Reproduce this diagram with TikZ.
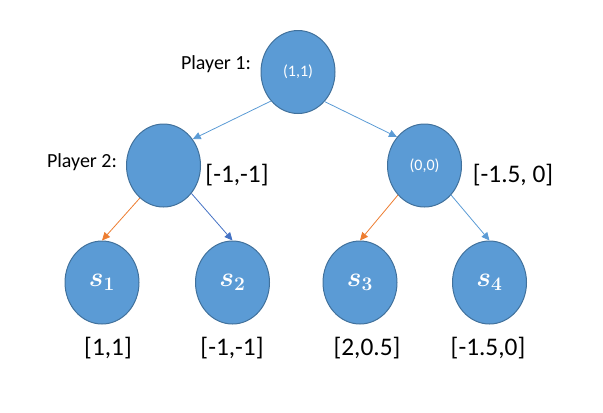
\documentclass[tikz,border=0pt]{standalone}
\usepackage{fontspec}
\setmainfont{Carlito}
\usetikzlibrary{shapes.geometric,arrows.meta}
\definecolor{nodeblue}{HTML}{5B9BD5}
\definecolor{nodeedge}{HTML}{41719C}
\definecolor{darkblue}{HTML}{4472C4}
\definecolor{lineorange}{HTML}{ED7D31}

\begin{document}
\begin{tikzpicture}[x=0.75pt,y=-0.75pt,
  state/.style={ellipse,draw=nodeedge,line width=0.75pt,fill=nodeblue,
    minimum width=55.5pt,minimum height=62.25pt,inner sep=0pt,text=white,
    font=\fontsize{12}{14}\selectfont},
  leaf/.style={state,font=\fontsize{20}{24}\selectfont\boldmath},
  payoff/.style={font=\fontsize{19}{22}\selectfont,inner sep=0pt},
  player/.style={font=\fontsize{15}{18}\selectfont,inner sep=0pt},
  edge/.style={-{Triangle[length=6pt,width=5.5pt]},line width=0.6pt}
]
  \useasboundingbox (0,0) rectangle (603,412);

  \node[state] (R) at (298,72) {(1,1)};
  \node[state] (A) at (163.5,165.5) {};
  \node[state] (B) at (424.5,165.5) {(0,0)};

  \node[leaf] (S1) at (102,282.5) {$s_1$};
  \node[leaf] (S2) at (232.5,282.5) {$s_2$};
  \node[leaf] (S3) at (360,282.5) {$s_3$};
  \node[leaf] (S4) at (489.5,282.5) {$s_4$};

  \node[player] (P1) at (216,64) {Player 1:};
  \node[player] (P2) at (82,162) {Player 2:};

  \node[payoff] (VA) at (237,175) {[-1,-1]};
  \node[payoff] (VB) at (513,175) {[-1.5, 0]};
  \node[payoff] (V1) at (108,348) {[1,1]};
  \node[payoff] (V2) at (232,348) {[-1,-1]};
  \node[payoff] (V3) at (367,348) {[2,0.5]};
  \node[payoff] (V4) at (488,348) {[-1.5,0]};

  \draw[edge,nodeblue] (R.-133) -- (A.42);
  \draw[edge,nodeblue] (R.-48) -- (B.134);
  \draw[edge,lineorange] (A.-126) -- (S1.north);
  \draw[edge,darkblue] (A.-45) -- (S2.north);
  \draw[edge,lineorange] (B.-132) -- (S3.north);
  \draw[edge,nodeblue] (B.-48) -- (S4.north);
\end{tikzpicture}
\end{document}
